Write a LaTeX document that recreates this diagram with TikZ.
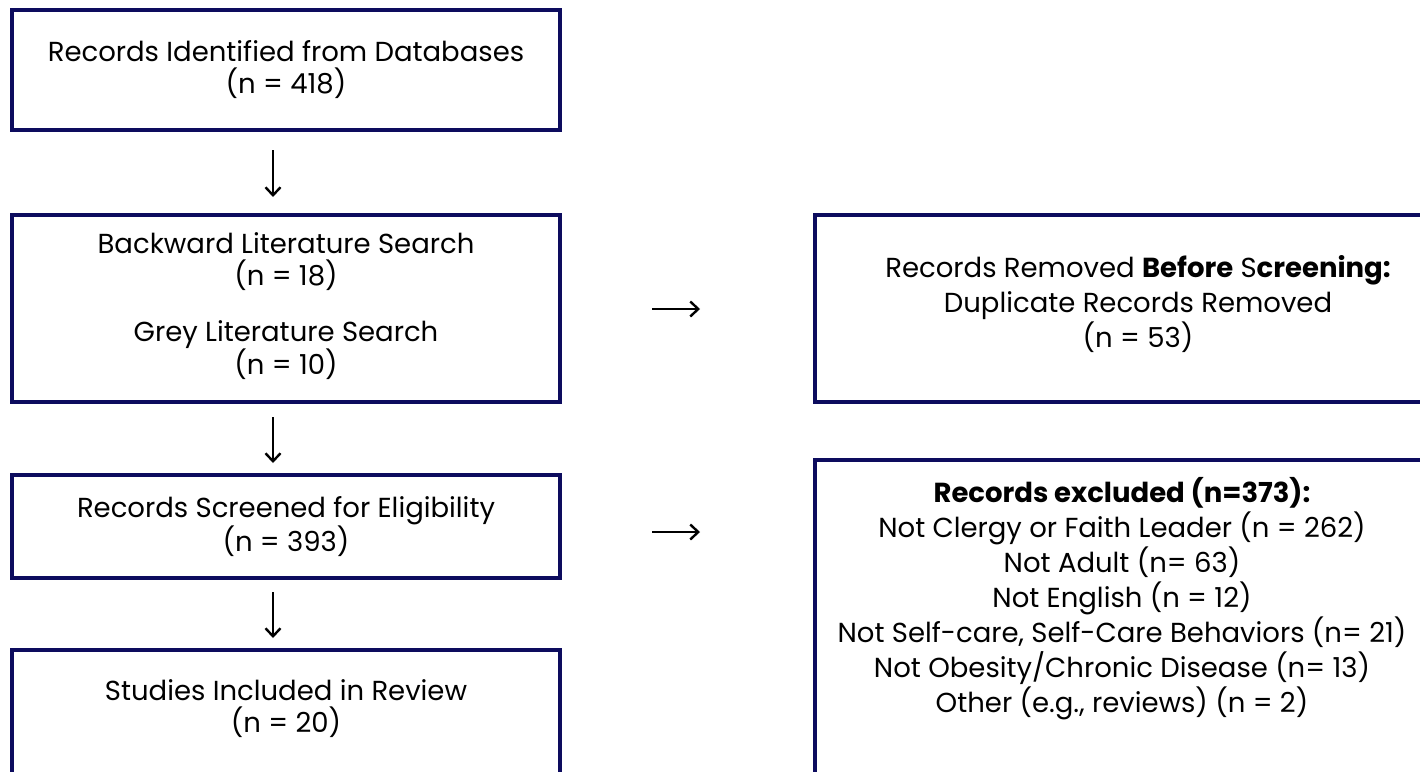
\documentclass[tikz,border=0pt]{standalone}
\usepackage{fontspec}
\setmainfont{Poppins}
\usetikzlibrary{arrows.meta}
\definecolor{navy}{HTML}{0D0C5E}
\begin{document}
\begin{tikzpicture}[x=1pt,y=-1pt,
  box/.style={draw=navy, line width=4pt, inner sep=0pt},
  lbl/.style={align=center, font=\fontsize{27.5}{32}\selectfont, inner sep=0pt},
  rlbl/.style={align=center, font=\fontsize{27.5}{35}\selectfont, inner sep=0pt},
  arr/.style={line width=2.4pt, -{Straight Barb[length=8pt,width=15pt,line width=2.4pt]}}]
\path[use as bounding box] (0,0) rectangle (1420,771);
\clip (0,0) rectangle (1420,771);
% left column boxes
\node[box, minimum width=548pt, minimum height=120pt] (b1) at (286,70) {};
\node[box, minimum width=548pt, minimum height=187pt] (b2) at (286,308.5) {};
\node[box, minimum width=548pt, minimum height=103pt] (b3) at (286,526.5) {};
\node[box, minimum width=548pt, minimum height=128pt] (b4) at (286,714) {};
% right column boxes
\node[box, minimum width=635pt, minimum height=187pt] (r1) at (1132.5,308.5) {};
\node[box, minimum width=635pt, minimum height=340pt] (r2) at (1132.5,630) {};
% texts
\node[lbl] (t1) at (b1.center) {Records Identified from Databases\\(n = 418)};
\node[lbl] (t2a) at (286,262) {Backward Literature Search\\(n = 18)};
\node[lbl] (t2b) at (286,350) {Grey Literature Search\\(n = 10)};
\node[lbl] (t3) at (b3.center) {Records Screened for Eligibility\\(n = 393)};
\node[lbl] (t4) at (286,709) {Studies Included in Review\\(n = 20)};
\node[rlbl] (tr1) at (1138,304) {Records Removed \textbf{Before} S\textbf{creening:}\\Duplicate Records Removed\\(n = 53)};
\node[rlbl] (tr2) at (1122,599) {\textbf{Records excluded (n=373):}\\Not Clergy or Faith Leader (n = 262)\\Not Adult (n= 63)\\Not English (n = 12)\\Not Self-care, Self-Care Behaviors (n= 21)\\Not Obesity/Chronic Disease (n= 13)\\Other (e.g., reviews) (n = 2)};
% arrows
\coordinate (a1s) at (273,150); \coordinate (a1e) at (273,197);
\coordinate (a2s) at (273,417); \coordinate (a2e) at (273,463);
\coordinate (a3s) at (273,592); \coordinate (a3e) at (273,638);
\coordinate (h1s) at (652,309); \coordinate (h1e) at (700,309);
\coordinate (h2s) at (652,532); \coordinate (h2e) at (700,532);
\draw[arr] (a1s) -- (a1e);
\draw[arr] (a2s) -- (a2e);
\draw[arr] (a3s) -- (a3e);
\draw[arr] (h1s) -- (h1e);
\draw[arr] (h2s) -- (h2e);
\end{tikzpicture}
\end{document}
